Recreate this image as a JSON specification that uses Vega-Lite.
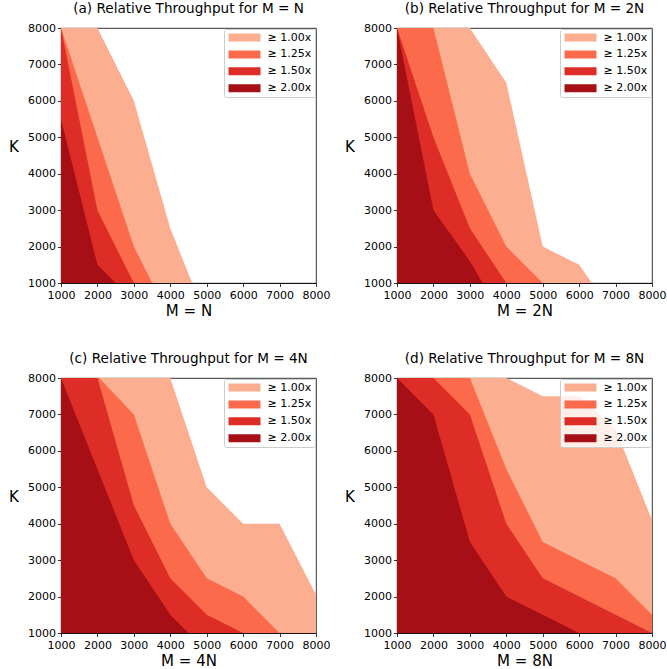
{
  "$schema": "https://vega.github.io/schema/vega-lite/v6.json",
  "padding": {"left": 8, "top": 2, "right": 5, "bottom": 5},
  "background": "white",
  "config": {
    "font": "DejaVu Sans",
    "view": {"stroke": "black", "strokeWidth": 0.8},
    "title": {"fontSize": 13.6, "fontWeight": "normal", "color": "black", "baseline": "alphabetic", "offset": 6, "anchor": "middle"},
    "axis": {
      "grid": false, "zindex": 1,
      "domainColor": "black", "domainWidth": 0.8,
      "tickColor": "black", "tickWidth": 0.8, "tickSize": 3.5,
      "labelFontSize": 11, "labelColor": "black", "labelFlush": false, "labelOverlap": false,
      "titleFontSize": 15, "titleFontWeight": "normal", "titleColor": "black"
    },
    "axisX": {"labelPadding": 3, "titleY": 32.5, "titleBaseline": "alphabetic"},
    "axisY": {"labelPadding": 2, "titleAngle": 0, "titleAlign": "center", "titleBaseline": "alphabetic", "titleX": -47.5, "titleY": 123.5},
    "legend": {
      "orient": "top-right", "offset": 1, "padding": 3,
      "fillColor": "rgba(255,255,255,0.8)", "strokeColor": "#cccccc", "cornerRadius": 2,
      "symbolType": "M-1,-1H7V1H-1Z", "symbolSize": 64, "symbolStrokeWidth": 0, "symbolOpacity": 1,
      "labelFontSize": 11, "labelColor": "black", "labelOffset": 29.5, "rowPadding": 4.9
    }
  },
  "datasets": {
    "a": [
      {"M": 1000, "K": 8000, "level": "≥ 1.00x"}, {"M": 2000, "K": 8000, "level": "≥ 1.00x"}, {"M": 3000, "K": 6000, "level": "≥ 1.00x"}, {"M": 4000, "K": 2500, "level": "≥ 1.00x"}, {"M": 4600, "K": 1000, "level": "≥ 1.00x"},
      {"M": 1000, "K": 8000, "level": "≥ 1.25x"}, {"M": 2000, "K": 5000, "level": "≥ 1.25x"}, {"M": 3000, "K": 2000, "level": "≥ 1.25x"}, {"M": 3500, "K": 1000, "level": "≥ 1.25x"},
      {"M": 1000, "K": 8000, "level": "≥ 1.50x"}, {"M": 2000, "K": 3000, "level": "≥ 1.50x"}, {"M": 3000, "K": 1000, "level": "≥ 1.50x"},
      {"M": 1000, "K": 5500, "level": "≥ 2.00x"}, {"M": 2000, "K": 1500, "level": "≥ 2.00x"}, {"M": 2500, "K": 1000, "level": "≥ 2.00x"}
    ],
    "b": [
      {"M": 1000, "K": 8000, "level": "≥ 1.00x"}, {"M": 3000, "K": 8000, "level": "≥ 1.00x"}, {"M": 4000, "K": 6500, "level": "≥ 1.00x"}, {"M": 5000, "K": 2000, "level": "≥ 1.00x"}, {"M": 6000, "K": 1500, "level": "≥ 1.00x"}, {"M": 6350, "K": 1000, "level": "≥ 1.00x"},
      {"M": 1000, "K": 8000, "level": "≥ 1.25x"}, {"M": 2000, "K": 8000, "level": "≥ 1.25x"}, {"M": 3000, "K": 4000, "level": "≥ 1.25x"}, {"M": 4000, "K": 2000, "level": "≥ 1.25x"}, {"M": 5000, "K": 1000, "level": "≥ 1.25x"},
      {"M": 1000, "K": 8000, "level": "≥ 1.50x"}, {"M": 2000, "K": 5000, "level": "≥ 1.50x"}, {"M": 3000, "K": 2500, "level": "≥ 1.50x"}, {"M": 4000, "K": 1000, "level": "≥ 1.50x"},
      {"M": 1000, "K": 8000, "level": "≥ 2.00x"}, {"M": 2000, "K": 3000, "level": "≥ 2.00x"}, {"M": 3000, "K": 1600, "level": "≥ 2.00x"}, {"M": 3350, "K": 1000, "level": "≥ 2.00x"}
    ],
    "c": [
      {"M": 1000, "K": 8000, "level": "≥ 1.00x"}, {"M": 4000, "K": 8000, "level": "≥ 1.00x"}, {"M": 5000, "K": 5000, "level": "≥ 1.00x"}, {"M": 6000, "K": 4000, "level": "≥ 1.00x"}, {"M": 7000, "K": 4000, "level": "≥ 1.00x"}, {"M": 8000, "K": 2050, "level": "≥ 1.00x"},
      {"M": 1000, "K": 8000, "level": "≥ 1.25x"}, {"M": 2050, "K": 8000, "level": "≥ 1.25x"}, {"M": 3000, "K": 7000, "level": "≥ 1.25x"}, {"M": 4000, "K": 4000, "level": "≥ 1.25x"}, {"M": 5000, "K": 2500, "level": "≥ 1.25x"}, {"M": 6000, "K": 2000, "level": "≥ 1.25x"}, {"M": 7000, "K": 1000, "level": "≥ 1.25x"},
      {"M": 1000, "K": 8000, "level": "≥ 1.50x"}, {"M": 2000, "K": 8000, "level": "≥ 1.50x"}, {"M": 3000, "K": 4500, "level": "≥ 1.50x"}, {"M": 4000, "K": 2500, "level": "≥ 1.50x"}, {"M": 5000, "K": 1500, "level": "≥ 1.50x"}, {"M": 6000, "K": 1000, "level": "≥ 1.50x"},
      {"M": 1000, "K": 8000, "level": "≥ 2.00x"}, {"M": 3000, "K": 3000, "level": "≥ 2.00x"}, {"M": 4000, "K": 1500, "level": "≥ 2.00x"}, {"M": 4500, "K": 1000, "level": "≥ 2.00x"}
    ],
    "d": [
      {"M": 1000, "K": 8000, "level": "≥ 1.00x"}, {"M": 4000, "K": 8000, "level": "≥ 1.00x"}, {"M": 5000, "K": 7500, "level": "≥ 1.00x"}, {"M": 6000, "K": 7500, "level": "≥ 1.00x"}, {"M": 7000, "K": 6600, "level": "≥ 1.00x"}, {"M": 8000, "K": 4100, "level": "≥ 1.00x"},
      {"M": 1000, "K": 8000, "level": "≥ 1.25x"}, {"M": 3000, "K": 8000, "level": "≥ 1.25x"}, {"M": 4000, "K": 5500, "level": "≥ 1.25x"}, {"M": 5000, "K": 3500, "level": "≥ 1.25x"}, {"M": 6000, "K": 3000, "level": "≥ 1.25x"}, {"M": 7000, "K": 2500, "level": "≥ 1.25x"}, {"M": 8000, "K": 1500, "level": "≥ 1.25x"},
      {"M": 1000, "K": 8000, "level": "≥ 1.50x"}, {"M": 2000, "K": 8000, "level": "≥ 1.50x"}, {"M": 3000, "K": 7000, "level": "≥ 1.50x"}, {"M": 4000, "K": 4000, "level": "≥ 1.50x"}, {"M": 5000, "K": 2500, "level": "≥ 1.50x"}, {"M": 6000, "K": 2000, "level": "≥ 1.50x"}, {"M": 7000, "K": 1500, "level": "≥ 1.50x"}, {"M": 8000, "K": 1000, "level": "≥ 1.50x"},
      {"M": 1000, "K": 8000, "level": "≥ 2.00x"}, {"M": 2000, "K": 7000, "level": "≥ 2.00x"}, {"M": 3000, "K": 3500, "level": "≥ 2.00x"}, {"M": 4000, "K": 2000, "level": "≥ 2.00x"}, {"M": 5000, "K": 1500, "level": "≥ 2.00x"}, {"M": 6000, "K": 1000, "level": "≥ 2.00x"}
    ]
  },
  "columns": 2,
  "spacing": {"row": 95, "column": 81},
  "bounds": "flush",
  "resolve": {"scale": {"color": "independent", "x": "independent", "y": "independent"}, "legend": {"color": "independent"}},
  "concat": [
    {
      "title": "(a) Relative Throughput for M = N",
      "width": 255, "height": 255,
      "data": {"name": "a"},
      "mark": {"type": "area", "opacity": 1, "interpolate": "linear"},
      "encoding": {
        "x": {"field": "M", "type": "quantitative", "scale": {"domain": [1000, 8000], "nice": false, "zero": false}, "axis": {"title": "M = N", "values": [1000, 2000, 3000, 4000, 5000, 6000, 7000, 8000], "format": "d"}},
        "y": {"field": "K", "type": "quantitative", "stack": null, "scale": {"domain": [1000, 8000], "nice": false, "zero": false}, "axis": {"title": "K", "values": [1000, 2000, 3000, 4000, 5000, 6000, 7000, 8000], "format": "d"}},
        "y2": {"datum": 1000},
        "color": {"field": "level", "type": "nominal", "scale": {"domain": ["≥ 1.00x", "≥ 1.25x", "≥ 1.50x", "≥ 2.00x"], "range": ["#fcae91", "#fb6a4a", "#de2d26", "#a50f15"]}, "legend": {"title": null}}
      }
    },
    {
      "title": "(b) Relative Throughput for M = 2N",
      "width": 255, "height": 255,
      "data": {"name": "b"},
      "mark": {"type": "area", "opacity": 1, "interpolate": "linear"},
      "encoding": {
        "x": {"field": "M", "type": "quantitative", "scale": {"domain": [1000, 8000], "nice": false, "zero": false}, "axis": {"title": "M = 2N", "values": [1000, 2000, 3000, 4000, 5000, 6000, 7000, 8000], "format": "d"}},
        "y": {"field": "K", "type": "quantitative", "stack": null, "scale": {"domain": [1000, 8000], "nice": false, "zero": false}, "axis": {"title": "K", "values": [1000, 2000, 3000, 4000, 5000, 6000, 7000, 8000], "format": "d"}},
        "y2": {"datum": 1000},
        "color": {"field": "level", "type": "nominal", "scale": {"domain": ["≥ 1.00x", "≥ 1.25x", "≥ 1.50x", "≥ 2.00x"], "range": ["#fcae91", "#fb6a4a", "#de2d26", "#a50f15"]}, "legend": {"title": null}}
      }
    },
    {
      "title": "(c) Relative Throughput for M = 4N",
      "width": 255, "height": 255,
      "data": {"name": "c"},
      "mark": {"type": "area", "opacity": 1, "interpolate": "linear"},
      "encoding": {
        "x": {"field": "M", "type": "quantitative", "scale": {"domain": [1000, 8000], "nice": false, "zero": false}, "axis": {"title": "M = 4N", "values": [1000, 2000, 3000, 4000, 5000, 6000, 7000, 8000], "format": "d"}},
        "y": {"field": "K", "type": "quantitative", "stack": null, "scale": {"domain": [1000, 8000], "nice": false, "zero": false}, "axis": {"title": "K", "values": [1000, 2000, 3000, 4000, 5000, 6000, 7000, 8000], "format": "d"}},
        "y2": {"datum": 1000},
        "color": {"field": "level", "type": "nominal", "scale": {"domain": ["≥ 1.00x", "≥ 1.25x", "≥ 1.50x", "≥ 2.00x"], "range": ["#fcae91", "#fb6a4a", "#de2d26", "#a50f15"]}, "legend": {"title": null}}
      }
    },
    {
      "title": "(d) Relative Throughput for M = 8N",
      "width": 255, "height": 255,
      "data": {"name": "d"},
      "mark": {"type": "area", "opacity": 1, "interpolate": "linear"},
      "encoding": {
        "x": {"field": "M", "type": "quantitative", "scale": {"domain": [1000, 8000], "nice": false, "zero": false}, "axis": {"title": "M = 8N", "values": [1000, 2000, 3000, 4000, 5000, 6000, 7000, 8000], "format": "d"}},
        "y": {"field": "K", "type": "quantitative", "stack": null, "scale": {"domain": [1000, 8000], "nice": false, "zero": false}, "axis": {"title": "K", "values": [1000, 2000, 3000, 4000, 5000, 6000, 7000, 8000], "format": "d"}},
        "y2": {"datum": 1000},
        "color": {"field": "level", "type": "nominal", "scale": {"domain": ["≥ 1.00x", "≥ 1.25x", "≥ 1.50x", "≥ 2.00x"], "range": ["#fcae91", "#fb6a4a", "#de2d26", "#a50f15"]}, "legend": {"title": null}}
      }
    }
  ]
}
